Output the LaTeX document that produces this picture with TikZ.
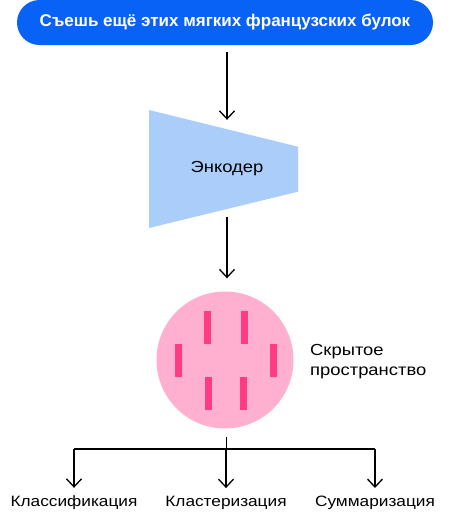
\documentclass[tikz,border=0pt]{standalone}
\usepackage{fontspec}
\setmainfont{Liberation Sans}
\newfontfamily\widesans[FakeStretch=1.15]{Liberation Sans}
\usetikzlibrary{arrows.meta}
\definecolor{pillblue}{RGB}{8,98,245}
\definecolor{encblue}{RGB}{170,205,250}
\definecolor{latentpink}{RGB}{255,176,208}
\definecolor{barpink}{RGB}{255,60,130}

\begin{document}
\begin{tikzpicture}[x=1pt, y=-1pt,
            arr/.style={-{Straight Barb[length=8pt,width=15pt]}, line width=1.3pt},
            lbl/.style={font=\widesans\fontsize{15}{20}\selectfont, inner sep=0pt}]
            \useasboundingbox (0,0) rectangle (459,512);
            \node[fill=pillblue, rounded corners=22.5pt, minimum width=416pt, minimum height=45pt, text=white, font=\bfseries\fontsize{17}{20}\selectfont] (input) at (225,22.5) {Съешь ещё этих мягких французских булок};

            \fill[encblue] (149,110) -- (298,146.7) -- (298,191.7) -- (149,228) -- cycle;
            \node[lbl, font=\widesans\fontsize{16}{20}\selectfont, minimum height=97pt] (enc) at (227,168.5) {Энкодер};

            \node[circle, fill=latentpink, minimum size=137pt, inner sep=0pt] (latent) at (225,360) {};
            \foreach \x/\y in {207/327, 244/327, 178.5/360, 273/360, 208/393, 243/393}
                \fill[barpink] (\x-3.5,\y-16.5) rectangle ++(7,33);
            \node[lbl, font=\widesans\fontsize{16}{20}\selectfont, anchor=west, align=left] (latentlbl) at (310,362) {Скрытое\\пространство};

            \node[lbl] (cls) at (74,503) {Классификация};
            \node[lbl] (clu) at (226,503) {Кластеризация};
            \node[lbl] (sum) at (375,503) {Суммаризация};
            \coordinate (hub) at (226.5,449);

            \draw[arr, shorten <=7pt] (input.south -| enc.north) -- (enc.north);
            \draw[arr, shorten >=13pt] (enc.south) -- (enc.south |- latent.north);
            \draw[line width=1.3pt, shorten <=8pt] (latent.south -| hub) -- (hub);
            \draw[line width=1.3pt] (hub -| cls) -- (hub -| sum);
            \foreach \t in {cls, clu, sum}
                \draw[arr, shorten >=8pt] (hub -| \t) -- (\t.north);
        \end{tikzpicture}
\end{document}
